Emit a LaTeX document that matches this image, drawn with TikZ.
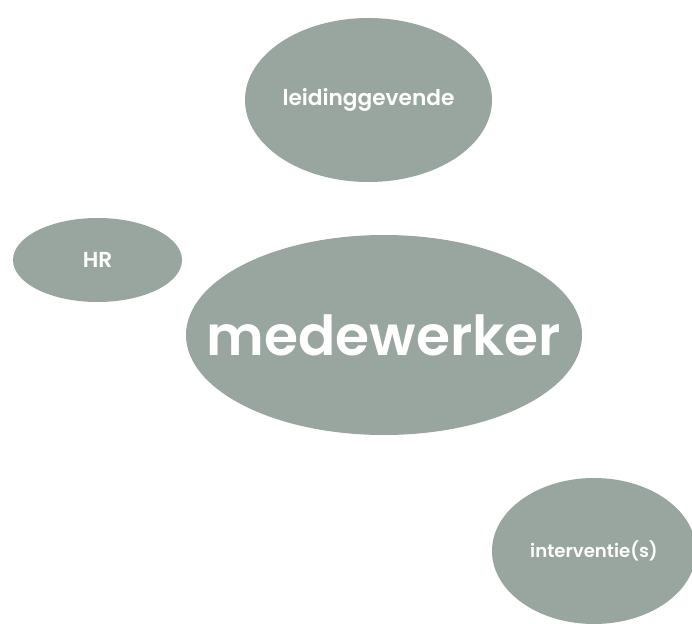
\documentclass[tikz,border=0pt]{standalone}
\usepackage{fontspec}
\setmainfont{Poppins}
\newfontfamily\labelfont{Poppins SemiBold}
\usetikzlibrary{shapes.geometric}
\definecolor{blobgray}{HTML}{99A59F}

% the label sits in a zero-width box, so only minimum width/height size the ellipse
\newcommand{\blobtext}[2]{\makebox[0pt]{\fontsize{#1}{#1}\selectfont #2}}

\tikzset{
  blob/.style={ellipse, fill=blobgray, text=white, inner sep=0pt, font=\labelfont}
}

\begin{document}
\begin{tikzpicture}[x=0.03cm, y=-0.03cm]
  \clip (0,0) rectangle (692,624);
  \fill[white] (0,0) rectangle (692,624);
  \node[blob, minimum width=7.41cm, minimum height=4.92cm] (lg) at (368.5,100)
       {\blobtext{18.5}{leidinggevende}};
  \node[blob, minimum width=5.07cm, minimum height=2.52cm] (hr) at (97.5,260)
       {\blobtext{18.5}{HR}};
  \node[blob, minimum width=11.88cm, minimum height=6.0cm] (mw) at (384,335)
       {\blobtext{47}{medewerker}};
  \node[blob, minimum width=6.12cm, minimum height=4.38cm] (iv) at (594,551)
       {\blobtext{15.5}{interventie(s)}};
\end{tikzpicture}
\end{document}
